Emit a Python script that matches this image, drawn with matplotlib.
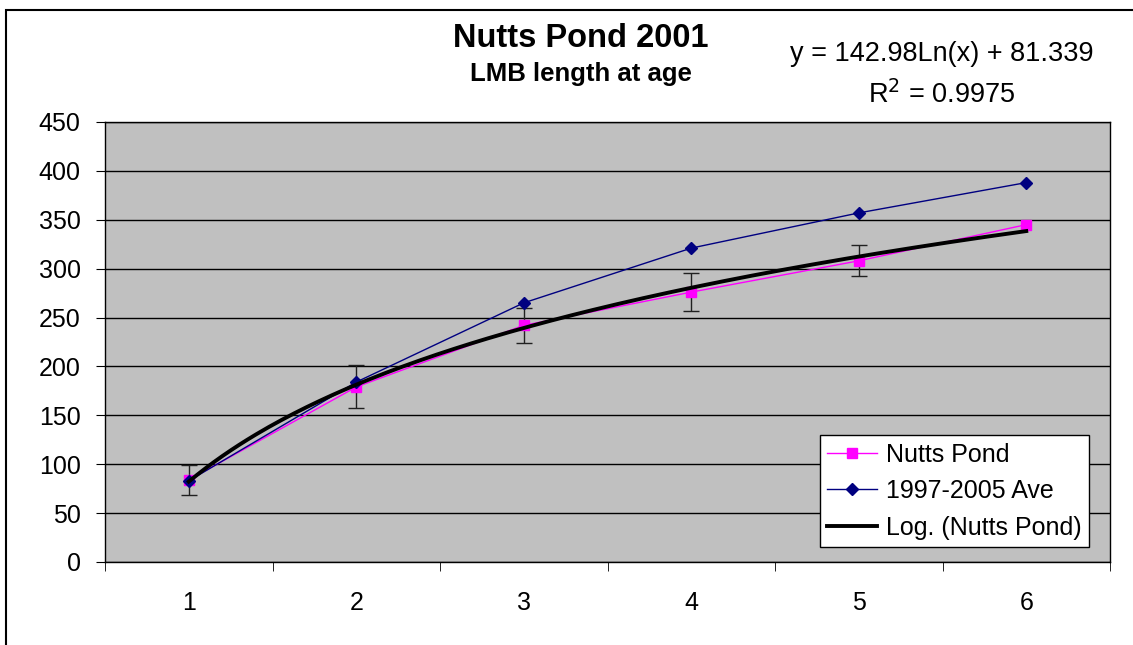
import numpy as np
import matplotlib
matplotlib.use("Agg")
import matplotlib.pyplot as plt
from matplotlib.patches import Rectangle

plt.rcParams['font.family'] = ['Liberation Sans', 'DejaVu Sans']

# data
ages = [1, 2, 3, 4, 5, 6]
nutts = [84, 179, 242, 276, 308, 345]
nutts_err = [15, 22, 18, 19.5, 16, 0]
ave_97_05 = [83, 184, 265, 321, 357, 388]

title = "Nutts Pond 2001"
subtitle = "LMB length at age"
eq_text = "y = 142.98Ln(x) + 81.339"
r2_text = "R$^2$ = 0.9975"

# log trendline fitted to the Nutts Pond values
b, a = np.polyfit(np.log(ages), nutts, 1)
xt = np.linspace(ages[0], ages[-1], 200)
yt = a + b * np.log(xt)

fig = plt.figure(figsize=(11.33, 6.45), dpi=100)
# chart border (only left and top edges fall inside the picture)
fig.patches.append(Rectangle((6 / 1133, -0.05), 1.2, 1 - 10 / 645 + 0.05, transform=fig.transFigure,
                             fill=False, edgecolor='black', linewidth=1.5))
ax = fig.add_axes([0.0927, 0.1287, 0.887, 0.6822])
ax.set_facecolor('#C0C0C0')

ax.plot(ages, nutts, color='#FF00FF', lw=1, marker='s', ms=7, label='Nutts Pond', zorder=3)
ax.errorbar(ages[:5], nutts[:5], yerr=nutts_err[:5], fmt='none', ecolor='#202020',
            elinewidth=1, capsize=6, capthick=1, zorder=2)
ax.plot(ages, ave_97_05, color='#000080', lw=1, marker='D', ms=6, label='1997-2005 Ave', zorder=4)
ax.plot(xt, yt, color='black', lw=2.8, label='Log. (Nutts Pond)', zorder=5)

ax.set_xlim(0.5, 6.5)
ax.set_ylim(0, 450)
ax.set_yticks(range(0, 451, 50))
ax.yaxis.grid(True, color='black', lw=1)
ax.set_axisbelow(True)
ax.set_xticks(ages)
ax.set_xticks(np.arange(0.5, 6.6, 1), minor=True)
ax.tick_params(axis='x', which='major', length=0, pad=21, labelsize=18)
ax.tick_params(axis='x', which='minor', length=6.5, direction='out')
ax.tick_params(axis='y', length=6.5, direction='out', labelsize=18, pad=11)
for s in ax.spines.values():
    s.set_color('black')
    s.set_linewidth(1)

leg = ax.legend(loc='lower right', bbox_to_anchor=(0.979, 0.034), fontsize=18, frameon=True,
                fancybox=False, edgecolor='black', framealpha=1, borderpad=0.3,
                handlelength=2.0, handletextpad=0.35, labelspacing=0.5, borderaxespad=0)
leg.get_frame().set_linewidth(1)

fig.text(0.513, 0.940, title, ha='center', va='center', fontsize=23.5, fontweight='bold')
fig.text(0.513, 0.885, subtitle, ha='center', va='center', fontsize=18.5, fontweight='bold')
fig.text(0.831, 0.916, eq_text, ha='center', va='center', fontsize=19.5)
fig.text(0.831, 0.853, r2_text, ha='center', va='center', fontsize=19.5)

fig.savefig('out.png', dpi=100)
